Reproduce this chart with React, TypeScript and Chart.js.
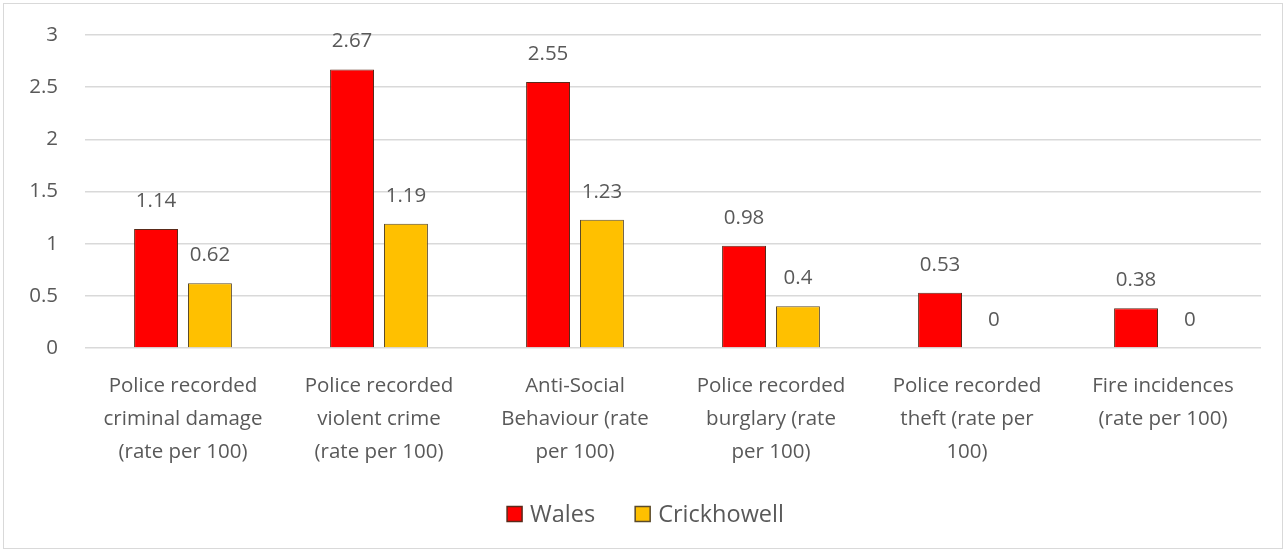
import React, { useEffect, useRef } from "react";
import { Chart, registerables } from "chart.js";

Chart.register(...registerables);

const categories: string[][] = [
  ["Police recorded", "criminal damage", "(rate per 100)"],
  ["Police recorded", "violent crime", "(rate per 100)"],
  ["Anti-Social", "Behaviour (rate", "per 100)"],
  ["Police recorded", "burglary (rate", "per 100)"],
  ["Police recorded", "theft (rate per", "100)"],
  ["Fire incidences", "(rate per 100)"],
];
const walesValues = [1.14, 2.67, 2.55, 0.98, 0.53, 0.38];
const crickhowellValues = [0.62, 1.19, 1.23, 0.4, 0, 0];
const yTicks = [0, 0.5, 1, 1.5, 2, 2.5, 3];

const FONT = "'Open Sans', 'Noto Sans', sans-serif";
const TEXT = "#595959";
const FS = 20.5;
const LEGEND_FS = 23.5;

const valueLabels = {
  id: "valueLabels",
  afterDatasetsDraw(chart: any) {
    const ctx = chart.ctx;
    ctx.save();
    ctx.font = `${FS}px ${FONT}`;
    ctx.fillStyle = TEXT;
    ctx.textAlign = "center";
    ctx.textBaseline = "alphabetic";
    chart.data.datasets.forEach((ds: any, i: number) => {
      const meta = chart.getDatasetMeta(i);
      meta.data.forEach((el: any, j: number) => {
        ctx.fillText(String(ds.data[j]), el.x, el.y - 22);
      });
    });
    ctx.restore();
  },
};

// Custom legend drawn at the bottom, items spaced like the reference
const bottomLegend = {
  id: "bottomLegend",
  afterDraw(chart: any) {
    const ctx = chart.ctx;
    ctx.save();
    ctx.font = `${LEGEND_FS}px ${FONT}`;
    ctx.textBaseline = "middle";
    const box = 15;
    const gap = 8;
    const itemGap = 40;
    const items = chart.data.datasets.map((ds: any) => ({
      label: ds.label,
      fill: ds.backgroundColor,
      stroke: ds.borderColor,
      w: box + gap + ctx.measureText(ds.label).width,
    }));
    const total =
      items.reduce((s: number, it: any) => s + it.w, 0) +
      itemGap * (items.length - 1);
    let x = chart.width / 2 + 2 - total / 2;
    const y = chart.chartArea.bottom + 166;
    items.forEach((it: any) => {
      ctx.fillStyle = it.fill;
      ctx.fillRect(x, y - box / 2, box, box);
      ctx.strokeStyle = it.stroke;
      ctx.lineWidth = 1.5;
      ctx.strokeRect(x, y - box / 2, box, box);
      ctx.fillStyle = TEXT;
      ctx.textAlign = "left";
      ctx.fillText(it.label, x + box + gap, y + 1);
      x += it.w + itemGap;
    });
    ctx.restore();
  },
};

export default function App() {
  const ref = useRef<HTMLCanvasElement>(null);
  useEffect(() => {
    if (!ref.current) return;
    const chart = new Chart(ref.current, {
      type: "bar",
      data: {
        labels: categories,
        datasets: [
          {
            label: "Wales",
            data: walesValues,
            backgroundColor: "#FF0000",
            borderColor: "#5a2a1a",
            borderWidth: 1,
            categoryPercentage: 0.55,
            barPercentage: 0.815,
          },
          {
            label: "Crickhowell",
            data: crickhowellValues,
            backgroundColor: "#FFC000",
            borderColor: "#5a4a2a",
            borderWidth: 1,
            categoryPercentage: 0.55,
            barPercentage: 0.815,
          },
        ],
      },
      options: {
        animation: false,
        responsive: false,
        maintainAspectRatio: false,
        layout: { padding: { top: 35, left: 10, right: 26, bottom: 85 } },
        plugins: {
          legend: { display: false },
          tooltip: { enabled: false },
        },
        scales: {
          x: {
            grid: { display: false },
            border: { display: false },
            afterFit(scale: any) {
              scale.height = 120;
            },
            ticks: {
              font: { family: FONT, size: FS, lineHeight: 1.63 },
              color: TEXT,
              maxRotation: 0,
              autoSkip: false,
              padding: 13,
            },
          },
          y: {
            min: 0,
            max: 3,
            afterBuildTicks(scale: any) {
              scale.ticks = yTicks.map((v) => ({ value: v }));
            },
            afterFit(scale: any) {
              scale.width = 75;
              scale.paddingTop = 0;
              scale.paddingBottom = 0;
            },
            grid: { color: "#d9d9d9", lineWidth: 1.5, drawTicks: false },
            border: { display: false },
            ticks: {
              font: { family: FONT, size: FS },
              color: TEXT,
              padding: 27,
              callback: (v: any) => String(v),
            },
          },
        },
      },
      plugins: [valueLabels, bottomLegend],
    });
    return () => chart.destroy();
  }, []);
  return (
    <div
      style={{
        position: "fixed",
        left: 0,
        top: 0,
        width: 1287,
        height: 553,
        background: "#fff",
      }}
    >
      <div
        style={{
          position: "absolute",
          left: 3,
          top: 3,
          width: 1280,
          height: 546,
          border: "1px solid #d9d9d9",
          boxSizing: "border-box",
        }}
      />
      <canvas
        ref={ref}
        width={1287}
        height={553}
        style={{ position: "absolute", left: 0, top: 0 }}
      />
    </div>
  );
}
